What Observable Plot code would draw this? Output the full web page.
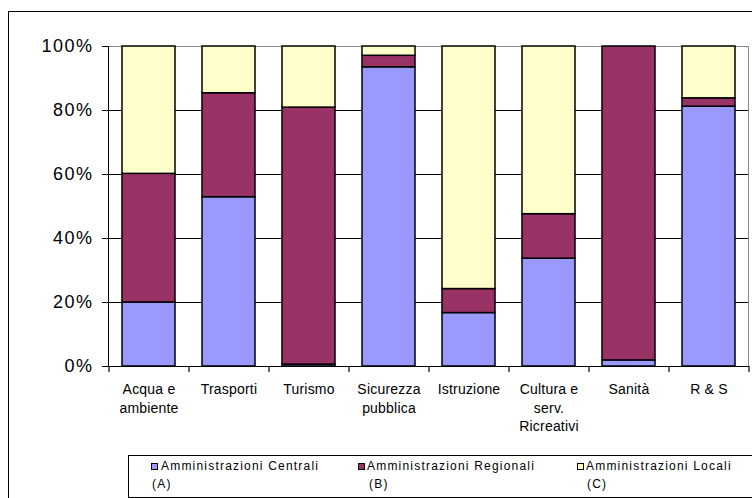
<!DOCTYPE html>
<html>
<head>
<meta charset="utf-8">
<script src="https://cdn.jsdelivr.net/npm/d3@7"></script>
<script src="https://cdn.jsdelivr.net/npm/@observablehq/plot@0.6"></script>
<style>
  html, body { margin: 0; padding: 0; background: #fff; overflow: hidden; }
  #wrap { position: relative; width: 752px; height: 498px; overflow: hidden; font-family: "Liberation Sans", Arial, sans-serif; }
  #outer { position: absolute; left: 8px; top: 11px; width: 800px; height: 520px; border: 1px solid #000; box-sizing: border-box; }
  #chart { position: absolute; left: 0; top: 0; }
  #legend { position: absolute; left: 128px; top: 455px; width: 700px; height: 43px; border: 1px solid #000; box-sizing: border-box; }
  .sw { position: absolute; width: 7px; height: 7px; border: 1px solid #000; box-sizing: border-box; }
  .lt { position: absolute; font-size: 12px; line-height: 18px; letter-spacing: 1.2px; color: #000; white-space: nowrap; }
  g[aria-label="y-axis tick label"] text { letter-spacing: 1.5px; }
  g[aria-label="x-axis tick label"] text { letter-spacing: 0.2px; }
</style>
</head>
<body>
<div id="wrap">
  <div id="outer"></div>
  <div id="chart"></div>
  <div id="legend"></div>
</div>
<script>
// ---- data ----
const categories = ["Acqua e ambiente", "Trasporti", "Turismo", "Sicurezza pubblica", "Istruzione", "Cultura e serv. Ricreativi", "Sanità", "R & S"];
const tickLabels = ["Acqua e\nambiente", "Trasporti", "Turismo", "Sicurezza\npubblica", "Istruzione", "Cultura e\nserv.\nRicreativi", "Sanità", "R & S"];
const series = ["Amministrazioni Centrali (A)", "Amministrazioni Regionali (B)", "Amministrazioni Locali (C)"];
const legendLine1 = ["Amministrazioni Centrali", "Amministrazioni Regionali", "Amministrazioni Locali"];
const legendLine2 = ["(A)", "(B)", "(C)"];
const colors = ["#9999FF", "#993366", "#FFFFCC"];
const centrali  = [20.0, 52.9, 0.6, 93.5, 16.7, 33.7, 1.9, 81.2];
const regionali = [40.2, 32.5, 80.3, 3.6, 7.5, 13.9, 98.1, 2.6];
const locali    = [39.8, 14.6, 19.1, 2.9, 75.8, 52.4, 0.0, 16.2];
const yTicks = [0, 20, 40, 60, 80, 100];

const values = [centrali, regionali, locali];
const data = [];
categories.forEach((c, i) => {
  series.forEach((s, j) => data.push({category: c, series: s, value: values[j][i]}));
});

// ---- layout ----
const W = 752, H = 498;
const mL = 108, mR = 4, mT = 46, mB = 132;
const step = (W - mL - mR) / categories.length;
const tickLen = 6 * 100 / (H - mT - mB);   // 6px expressed in y units
const lastCat = categories[categories.length - 1];

const chart = Plot.plot({
  width: W, height: H,
  marginLeft: mL, marginRight: mR, marginTop: mT, marginBottom: mB,
  style: {fontFamily: "'Liberation Sans', Arial, sans-serif", background: "transparent", color: "#000", overflow: "visible"},
  x: {domain: categories, paddingInner: 0.34, paddingOuter: 0.17, align: 0.5, axis: null},
  y: {domain: [0, 100], axis: null},
  color: {domain: series, range: colors},
  marks: [
    Plot.ruleY(yTicks.filter(d => d > 0 && d < 100), {stroke: "#000", strokeWidth: 1}),
    Plot.frame({stroke: "#888"}),
    Plot.barY(data, {x: "category", y: "value", fill: "series", stroke: "#000", strokeWidth: 1.5}),
    Plot.frame({anchor: "left", stroke: "#000"}),
    Plot.frame({anchor: "bottom", stroke: "#000"}),
    Plot.ruleX(categories, {x: d => d, dx: -step / 2, y1: 0, y2: -tickLen, stroke: "#000", strokeWidth: 1.2, clip: false}),
    Plot.ruleX([lastCat], {x: d => d, dx: step / 2, y1: 0, y2: -tickLen, stroke: "#000", strokeWidth: 1.2, clip: false}),
    Plot.axisY({ticks: yTicks, tickSize: 6, tickPadding: 9, tickFormat: d => d + "%", fontSize: 18, label: null, stroke: "#000"}),
    Plot.axisX({ticks: categories, tickSize: 0, tickPadding: 15, fontSize: 14, lineHeight: 1.3,
      tickFormat: d => tickLabels[categories.indexOf(d)], label: null})
  ]
});
document.getElementById("chart").appendChild(chart);

// ---- legend ----
const legend = d3.select("#legend");
const itemX = [22, 229, 448];      // swatch left within legend box
const textDX = [10, 9, 9];
const line2DX = [1, 11, 10];
series.forEach((s, j) => {
  legend.append("div").attr("class", "sw")
    .style("left", itemX[j] + "px").style("top", "7px")
    .style("background", colors[j]);
  legend.append("div").attr("class", "lt")
    .style("left", (itemX[j] + textDX[j]) + "px").style("top", "1px")
    .text(legendLine1[j]);
  legend.append("div").attr("class", "lt")
    .style("left", (itemX[j] + line2DX[j]) + "px").style("top", "19px")
    .text(legendLine2[j]);
});
</script>
</body>
</html>
